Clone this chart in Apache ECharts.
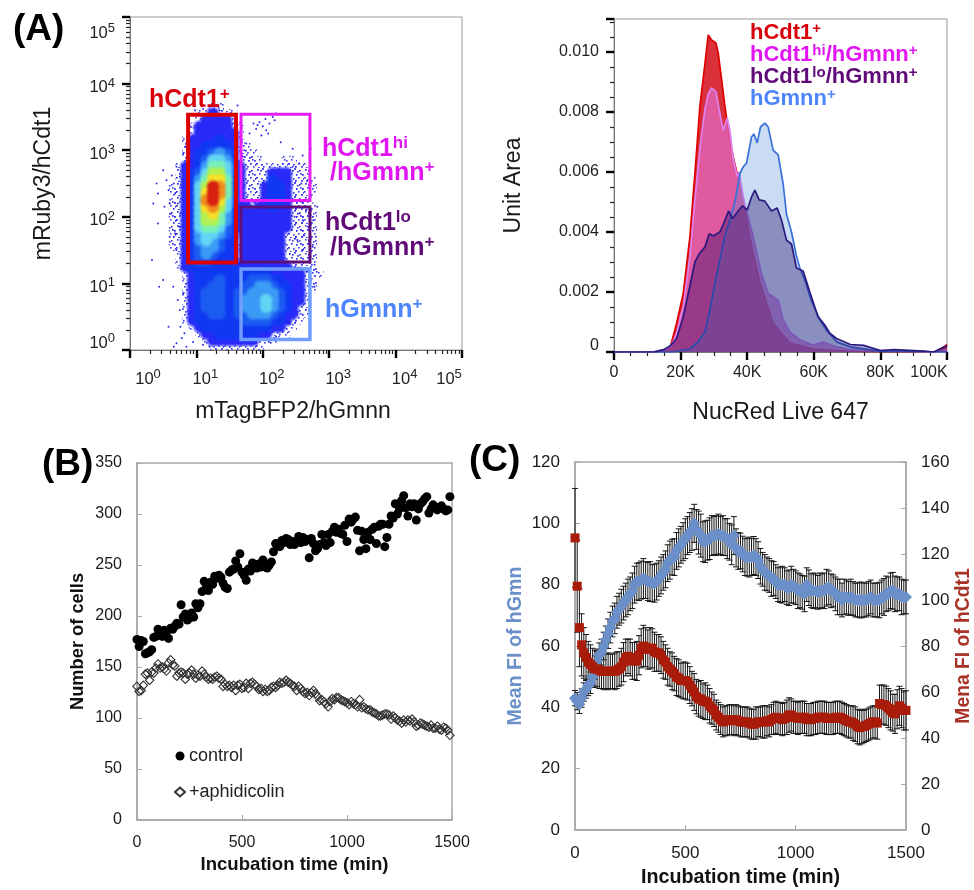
<!DOCTYPE html>
<html><head><meta charset="utf-8">
<style>html,body{margin:0;padding:0;background:#fff}#c{width:974px;height:890px}</style>
<script src="https://cdn.jsdelivr.net/npm/echarts@6/dist/echarts.min.js"></script>
</head><body><div id="c"></div>
<script>
const FONT='"Liberation Sans",Arial,sans-serif';
// ---- Panel A, flow plot: density levels read per 0.1 decade cell (row = mRuby3, col = mTagBFP2)
const densityLogXStart=0.5, densityLogYTop=3.7, densityStep=0.1;
const densityRows=[
"0000000110000000000000000",
"0000011211100000000000000",
"0000012222100000000000000",
"0000122222110000000000000",
"0000122222210000000000000",
"0001222232210000000000000",
"0001223333211000000000000",
"0001233454311100000000000",
"0001234665311110001100000",
"0012235776421111111111000",
"0012346886421111222111000",
"0012357997421111322111100",
"0112368ba7421112332111100",
"0112369ba7421112332111100",
"011236ab96421112332111000",
"0112369a86322122322111100",
"0112368975322222222111100",
"0112368875322222222111100",
"0112367764322222222111100",
"0112356654312222221111100",
"0112356543312222221111100",
"0112345543212222221111100",
"0012345433212222221111100",
"0012344333212222221111100",
"0012333333322222222111100",
"0001233333333333222221110",
"0001233343333444332221100",
"0001233443334455433221100",
"0001234443344555543221000",
"0001234443345556543221000",
"0001234443345556543211000",
"0001233443344555432211000",
"0001233333334444332110000",
"0000123333333333221100000",
"0000012233333322111000000",
"0000001222222211100000000",
"0000000111111110000000000"];
const densityColors={1:'#6f6fff',2:'#2a2af8',3:'#1038f2',4:'#1a5cf2',5:'#3a9af6',6:'#62d4f4',7:'#78f0b8',8:'#b0f050',9:'#f6e028',a:'#f08c1c',b:'#d8200e'};
// isolated events, as [log10 x, log10 y]
const speckles=[[.4,2.5],[.42,2.35],[.5,2.7],[.55,2.55],[.58,2.4],[.6,2.2],[.52,2.15],[.63,2.62],[.66,2.5],[.68,2.35],[.7,2.75],[.62,2.05],[.72,2.2],[.7,1.95],[.75,2.6],[.78,2.45],[.76,2.05],[.74,1.85],[.68,1.75],[.6,1.7],[.35,2.2],[.33,1.35],[.44,.95],[.5,1.05],[.42,1.9],[.7,1.5],[.78,1.25],[.8,.85],[.75,.6],[.72,.75],[.65,.95],[.58,.35],[.76,.35],[.82,.25],[.7,.1],[.85,.05],[.95,.12],[1.1,.08],[1.2,.05],[1.3,.1],[.78,.18],[.66,.05],
[1.75,3.1],[1.8,3.25],[1.86,3.4],[1.9,3.32],[1.95,3.42],[2,3.36],[2.05,3.3],[2.1,3.4],[2.15,3.5],[2.18,3.45],[2.08,3.25],[1.98,3.22],[1.92,3.38],[2.04,3.47],[2.2,3.55],[2.27,3.12],[2.45,3.02],[2.6,2.92],[2.55,2.8],[2.67,2.55],[2.58,2.5],[2.72,3.02],[2.45,2.75],[1.72,3.0],[1.7,2.9],
[2.72,2.02],[2.76,1.95],[2.8,1.7],[2.75,1.55],[2.62,1.72],[2.78,1.28],[2.7,1.08],[2.78,.95],[2.66,1.18],[2.72,1.4],[2.82,2.15],
[.98,3.6],[1.1,3.62],[1.2,3.6],[1.28,3.58],[1.35,3.6],[1.62,3.67],[.92,3.35],[.86,3.15],[.84,3.05],[.8,2.95],[1.45,3.55],[1.55,3.4],[1.6,3.2],
[1.5,1.72],[1.55,1.55],[1.6,1.6],[1.45,1.6],[1.52,1.42],[2.55,2.05],[2.65,2.1],[2.48,2.0],[2.6,1.95],[2.68,1.85],[2.52,1.65],[2.6,1.5],[2.7,1.65],[2.3,1.05],[2.48,.6],[2.55,.8],[2.4,.4],[2.3,.3],[2.2,.2],[2.05,.15],[1.9,.1]];
// gates as [x0, y0, x1, y1] in axis units
const gateRed=[7.5,20.6,39.5,3410], gateHi=[47,176,513,3470], gateLo=[47,21,513,140], gateGm=[47,1.44,513,16.5];
const logTicks=[1,10,100,1000,10000,100000];
const logMinorTicks=[2,3,4,5,6,7,8,9,20,30,40,50,60,70,80,90,200,300,400,500,600,700,800,900,2000,3000,4000,5000,6000,7000,8000,9000,20000,30000,40000,50000,60000,70000,80000,90000];
// ---- Panel A, histograms: [NucRed (K), Unit Area (x10^-3)]
const histRed=[[0,0],[12,0],[14,.03],[15.5,.06],[16.8,.12],[18.8,.96],[20.8,1.95],[22.8,3.85],[24.3,5.96],[25.8,8.2],[27.3,9.6],[28.3,10.57],[29.3,10.4],[30.6,10.3],[31.3,9.96],[32.3,9.1],[33.3,8.2],[34.3,7.4],[35.8,6.5],[37.3,5.8],[38.8,5.1],[40.8,3.8],[43.8,2.3],[47.8,.95],[52.8,.3],[60,.1],[70,.03],[90,0],[97,0],[99,.15],[100,.25]];
const histHi=[[0,0],[11,0],[13,.03],[15,.08],[16,.1],[17,.18],[18,.4],[19,.7],[20,1.2],[20.8,1.5],[22.8,3.2],[24.3,5.07],[25.8,6.8],[27.3,8.1],[28.3,8.6],[29.3,8.8],[30.6,8.68],[31.6,8.07],[32.8,7.4],[34,7.8],[34.8,7.4],[35.8,6.45],[37,5.85],[37.6,6],[38.8,5.17],[40.3,4.5],[42.3,3.6],[44.3,2.6],[46.3,1.95],[47.8,1.84],[49.3,1.73],[50.8,1.07],[52.8,.67],[55.8,.4],[59.8,.23],[63,.33],[66,.2],[70,.1],[76,.07],[82,.04],[92,.02],[97,0],[100,.1]];
const histLo=[[0,0],[12,0],[13,.03],[15,.08],[16.8,.2],[18.8,.45],[20.8,1.17],[22.8,2.2],[24.3,3],[25.6,3.27],[27.3,3.5],[28.6,3.94],[29.8,3.87],[31.8,4],[33,4.3],[34.4,4.7],[35.6,4.45],[37.3,4.7],[38.6,4.87],[40,4.73],[41.3,5.17],[42.3,5.4],[43.6,5.07],[45.3,5.03],[47.3,4.7],[49,4.8],[50.3,4.4],[51.8,3.73],[53.3,3.6],[54.8,2.8],[56.8,2.7],[58.8,2],[61.3,1.17],[63.3,.9],[64.8,.63],[67,.44],[71,.25],[75,.22],[80,.05],[84,.08],[93,.03],[96,0],[99,.17],[100,.2]];
const histGm=[[0,0],[18,0],[19.8,.05],[22.8,.1],[25.3,.35],[27.3,.67],[28.8,1.4],[30.3,2.3],[31.8,3.07],[33.3,3.87],[34.8,4.4],[36.3,5],[37.8,5.95],[38.8,6.17],[39.8,6.3],[41.3,7.17],[42,7.27],[43,6.97],[44,7.5],[45.3,7.63],[46.3,7.5],[47.8,6.73],[49.3,6.57],[50.8,5.6],[51.8,4.6],[53.3,4],[54.8,3.2],[55.8,2.8],[57.3,2.4],[59.3,1.7],[61.8,1.07],[63.8,.73],[67,.33],[71,.17],[80,.02],[100,0]];
// ---- Panel B: one value every 10 min
const sampleStep=10;
const control=[177,170,176,175,163,164,165,167,179,180,
187,183,180,186,184,178,188,187,190,193,
192,211,199,202,196,198,203,199,212,208,
212,224,234,230,225,233,231,239,237,240,
238,232,228,227,243,245,246,254,248,261,
243,240,235,246,244,252,250,247,251,248,
255,249,247,250,253,263,271,270,268,274,
272,276,275,270,273,270,273,278,272,277,
273,275,257,276,271,264,266,270,280,272,
269,280,272,283,287,282,285,281,280,289,
273,295,292,295,297,284,264,283,275,266,
282,275,285,287,271,288,290,290,268,277,
290,298,296,310,300,305,313,318,306,298,
310,307,310,294,305,310,312,315,317,301,
305,309,307,304,306,308,305,303,304,317];
const aphidicolin=[131,126,127,132,143,144,137,145,144,149,
153,149,150,148,146,154,157,152,151,141,
144,145,144,138,143,144,147,143,139,142,
141,146,143,140,138,139,138,140,141,139,
138,131,133,131,132,130,132,127,132,133,
129,130,134,129,134,135,133,131,128,129,
126,128,126,127,130,131,130,132,135,134,
135,137,135,134,132,131,127,131,129,126,
124,125,122,125,127,124,121,117,118,116,
114,111,116,119,118,120,120,118,117,116,
115,113,116,114,113,111,118,110,111,109,
108,108,106,105,104,102,102,103,104,104,
103,99,102,100,98,97,95,98,96,98,
97,99,96,92,93,95,94,93,92,91,
93,90,90,92,89,88,91,90,88,83];
// ---- Panel C: one value every 10 min
const meanGmnn=[43,42,41,43,45,46,47,48,50,53,
55,57,58,60,62,64,66,68,69,71,
72,73,74,75,76,77,78,80,81,81,
81.5,82,81.5,81,81,80.5,80.5,81,82,83,
84,85,87,88,89,89,91,92,93,94,
95,96,97,98,100,98,97,96,94,94,
94.5,95,96,96,96,96.5,96,96,95.5,95,
94,93,96,92,91,91,90,89,89,89,
89,89.5,89,88,86,85,84,83.5,83,82,
82,81,80,80,80,80,79,79,80,79.5,
79,78,78,77.5,77,80,79,78,78,78,
77.5,78,78,78,79,79,78,78,77,76,
76,75,76,76,75.5,76,75.5,75,75,75,
75,75,75,75.5,76,75,75,75,75,76,
76,77,77,78,78,77,77,77,76,76,76];
const errGmnn=[2.5,2.8,3,3,3,3,3.2,3.5,3.5,3.8,
4,4,4.2,4.5,4.5,4.8,5,5,5,5.2,
5.2,5.5,5.5,5.5,5.8,5.5,5.8,6,6,6.2,
6.2,6.5,6,6.2,6.5,6,6.2,6,5.8,6,
5.8,6,6,6.2,5.8,6,6,6.2,6,6.2,
6.5,6.2,6.5,6.8,6.2,6.5,7,7,6.5,6.8,
6.5,6.8,6.5,6.2,6.5,6.5,6.2,6.5,6,6.5,
6,6.5,6.2,6.2,6,5.8,5.8,6,6.2,6.5,
6,6.2,6,6,5.8,5.5,5.8,5.5,5.5,5.8,
5.5,5.5,5.5,5.8,6,5.5,5.5,5.8,6,5.5,
5.5,5.8,5.5,5.5,5.8,5.5,5.8,5.5,5.8,5.5,
5.5,5.8,5.5,5.8,6,5.5,5.5,5.2,5.5,5.8,
5.8,5.5,5.8,5.5,5.5,5.8,5.5,5.5,5.5,5.8,
5.8,5.5,5.5,5.5,5.5,5.5,5.5,5.5,5.8,5.5,
6,5.8,5.5,5.8,6,5.8,5.5,5.5,5.8,5.5,5.5];
const meanCdt1=[127,106,88,80.5,77,75,73,72,71,70,
70,69.5,69,69,69,69,69,69,69,69.5,
70,71,73,75,75.5,75,73.5,73.5,73.5,76,
79,80,79.5,78.5,79,79,77.5,77,77,76,
74,73,71,70,69,68,66.5,66,65,65,
65,64.5,63,61.5,60,58,57,57,56,56,
55.5,54,53,52,50,49,48,47,47.5,47.5,
48,48,47.5,48,47.5,47,47,47,47,46.5,
46,46,46.5,47,47,47,47,47.5,47,48,
48.5,49,48.5,48.5,48,48.5,49,50,50,49,
49,48.5,49,49,49,48,48,48,48.5,48.5,
49,49,49,49,48.5,48.5,48.5,48.5,49,49,
49,48.5,48,47.5,47,47,46.5,46,45,44.5,
45,45,45.5,46,46.5,47,47,46.5,55,54.5,
54.5,54,53,52,51,50.5,52.5,54,53,52,52];
const errCdt1=[21.5,20,17,13.5,11,10,9,8.5,8,8,
7.5,8,7.5,8,7.5,8,7.5,7.5,8,8,
7.5,8,8.5,8,7.5,8,8,8,8.5,8.5,
8.5,9,8.5,8.5,9,8.5,8.5,8,8,8,
8,7.5,8,7.5,8,7.5,8,8,7.5,8,
8,8,8,7.5,8,7.5,7.5,8,7.5,8,
7.5,7.5,7,7,6.5,6.5,6.5,6.5,6.5,6.5,
6.5,6.5,6.5,6.5,6.5,6.5,6.5,6.5,6.5,6.5,
6.5,6.5,7,6.5,6.5,7,7,6.5,6.5,6.5,
7,7,7,7,7,7,7.5,7.5,7,7,
7,7,7,7,7,7,7,7,7,7,
7,7,7,7,7,7,7,7,7,7,
7,7,7,7,7,7,7.5,7.5,7.5,7.5,
7.5,7,7,7,7,7,7,7,8,8.5,
8.5,8.5,8.5,8.5,8,8.5,8.5,8.5,8.5,8.5,8.5];

// ---- build
const densityCells=[];
densityRows.forEach((row,r)=>{[...row].forEach((ch,c)=>{
  if(ch==='0')return;
  const x0=Math.pow(10,densityLogXStart+c*densityStep), x1=Math.pow(10,densityLogXStart+(c+1)*densityStep);
  const y1=Math.pow(10,densityLogYTop-r*densityStep), y0=Math.pow(10,densityLogYTop-(r+1)*densityStep);
  densityCells.push([x0,y0,x1,y1,parseInt(ch,16)]);
});});
densityCells.sort((a,b)=>a[4]-b[4]);
const withTime=a=>a.map((v,i)=>[i*sampleStep,v]);
const kUnits=a=>a.map(p=>[p[0]*1000,p[1]/1000]);
const withErr=(m,e)=>m.map((v,i)=>[i*sampleStep,v,e[i]]);

// dotted texture for the sparse cells at the rim of the populations
const tile=document.createElement('canvas');tile.width=16;tile.height=14;
(function(){const g=tile.getContext('2d');g.fillStyle='#2a2af0';
  [[1,1],[6,0],[11,2],[14,6],[3,5],[8,6],[0,9],[5,10],[10,9],[13,12],[7,12],[2,13],[12,5],[4,2],[9,3],[15,10]].forEach(d=>{g.globalAlpha=.9;g.fillRect(d[0],d[1],1.6,1.6);});})();
const alpha0=h=>`rgba(${parseInt(h.slice(1,3),16)},${parseInt(h.slice(3,5),16)},${parseInt(h.slice(5,7),16)},0)`;

function cellItem(params,api){
  const p0=api.coord([api.value(0),api.value(1)]), p1=api.coord([api.value(2),api.value(3)]);
  const lvl=api.value(4), col=densityColors[lvl.toString(16)];
  const w=p1[0]-p0[0],h=p0[1]-p1[1];
  if(lvl===1) return {type:'rect',shape:{x:p0[0]-1,y:p1[1]-1,width:w+2,height:h+2},style:{fill:{image:tile,repeat:'repeat'}}};
  return {type:'circle',shape:{cx:p0[0]+w/2,cy:p1[1]+h/2,r:w*1.2},
    style:{fill:{type:'radial',x:.5,y:.5,r:.5,colorStops:[{offset:0,color:col},{offset:.5,color:col},{offset:1,color:alpha0(col)}]}}};
}
function gateItem(color,lw){return function(params,api){
  const p0=api.coord([api.value(0),api.value(1)]), p1=api.coord([api.value(2),api.value(3)]);
  return {type:'rect',shape:{x:p0[0],y:p1[1],width:p1[0]-p0[0],height:p0[1]-p1[1]},
    style:{fill:'none',stroke:color,lineWidth:lw}};
};}
function errItem(params,api){
  const t=api.value(0),m=api.value(1),e=api.value(2);
  const hi=api.coord([t,m+e]),lo=api.coord([t,m-e]),cap=3,st={stroke:'#141414',lineWidth:1};
  return {type:'group',children:[
    {type:'line',shape:{x1:hi[0],y1:hi[1],x2:lo[0],y2:lo[1]},style:st},
    {type:'line',shape:{x1:hi[0]-cap,y1:hi[1],x2:hi[0]+cap,y2:hi[1]},style:st},
    {type:'line',shape:{x1:lo[0]-cap,y1:lo[1],x2:lo[0]+cap,y2:lo[1]},style:st}]};
}
const histArea=(name,data,line,fill,z)=>({type:'line',name,xAxisIndex:2,yAxisIndex:2,data:kUnits(data),showSymbol:false,symbol:'none',z,
  lineStyle:{color:line,width:1.7},areaStyle:{color:fill,origin:'start',opacity:1},silent:true});
const tickGray='#a8a8a8';
const plainAxis=(extra,fs)=>Object.assign({type:'value',min:0,axisLine:{show:true,lineStyle:{color:tickGray,width:1.5}},
  axisTick:{show:true,inside:true,length:5,lineStyle:{color:tickGray}},splitLine:{show:false},
  axisLabel:{color:'#1a1a1a',fontFamily:FONT,fontSize:fs,margin:15,formatter:v=>String(v)},
  nameLocation:'middle'},extra);

const BF=16.5, SF=13;
const tok=(pad,f)=>({fontFamily:FONT,fontSize:f,color:'#222',padding:pad});
const supRich={
  p0:tok([0,0,0,36],BF),p1:tok([0,0,0,18],BF),p2:tok([0,0,0,18],BF),p3:tok([0,0,0,18],BF),p4:tok([0,0,0,18],BF),p5:tok([0,0,0,0],BF),
  s0:tok([0,0,9,0],SF),s5:tok([0,26,9,0],SF)};
const supRichY={
  n5:tok([32,0,0,0],BF),m5:tok([32,0,9,0],SF),
  n:tok([8,0,0,0],BF),m:tok([8,0,9,0],SF),
  n0:tok([0,0,14,0],BF),m0:tok([0,0,23,0],SF)};
const flowLabelX=v=>{const e=Math.round(Math.log10(v));return e===5?'{p5|10}{s5|5}':`{p${e}|10}{s0|${e}}`;};
const flowLabelY=v=>{const e=Math.round(Math.log10(v));
  return e===5?'{n5|10}{m5|5}':e===0?'{n0|10}{m0|0}':`{n|10}{m|${e}}`;};
const blackTick={show:true,length:8,lineStyle:{color:'#000',width:2.4}};
const minorTick={show:true,length:4,lineStyle:{color:'#222',width:1.2}};

const richLabel=(x,y,text,size,color)=>({type:'text',x,y,z:50,style:{text,fontFamily:FONT,
  verticalAlign:'middle',rich:{b:{fontFamily:FONT,fontWeight:'bold',fontSize:size,fill:color,color},
    s:{fontFamily:FONT,fontWeight:'bold',fontSize:Math.round(size*.68),fill:color,color,padding:[0,0,Math.round(size*.42),0]}}}});
const panel=(x,y,t)=>({type:'text',x,y,z:50,style:{text:t,fontFamily:FONT,fontWeight:'bold',fontSize:37,fill:'#000'}});

const option={
  animation:false,backgroundColor:'#fff',
  textStyle:{fontFamily:FONT},
  legend:{show:true,orient:'vertical',left:169,top:742,itemGap:18,itemWidth:10,itemHeight:9,
    data:[{name:'control',icon:'circle'},{name:'+aphidicolin',icon:'diamond'}],
    textStyle:{fontFamily:FONT,fontSize:18,color:'#222',padding:[0,0,0,-1]}},
  grid:[
    {left:130,top:17,width:332,height:333,show:true,borderColor:'#999',borderWidth:1},
    {left:130,top:17,width:332,height:333,show:false},
    {left:614,top:19,width:333,height:333,show:true,borderColor:'#999',borderWidth:1},
    {left:137,top:463,width:315,height:357,show:true,borderColor:tickGray,borderWidth:1.5},
    {left:575,top:462,width:333,height:368,show:true,borderColor:tickGray,borderWidth:1.5}],
  xAxis:[
    {type:'log',gridIndex:0,min:1,max:100000,logBase:10,position:'bottom',name:'mTagBFP2/hGmnn',nameLocation:'middle',nameGap:50,
      nameTextStyle:{fontFamily:FONT,fontSize:23,color:'#1a1a1a',padding:[0,6,0,0]},splitLine:{show:false},axisLine:{show:true,lineStyle:{color:'#777'}},
      axisTick:Object.assign({customValues:logTicks},blackTick),
      axisLabel:{customValues:logTicks,formatter:flowLabelX,rich:supRich,margin:18,align:'center',color:'#222',fontSize:BF}},
    {type:'log',gridIndex:1,min:1,max:100000,logBase:10,position:'bottom',axisLine:{show:false},splitLine:{show:false},
      axisTick:Object.assign({customValues:logMinorTicks},minorTick),axisLabel:{show:false}},
    {type:'value',gridIndex:2,min:0,max:100000,interval:20000,name:'NucRed Live 647',nameLocation:'middle',nameGap:49,
      nameTextStyle:{fontFamily:FONT,fontSize:23,color:'#1a1a1a'},splitLine:{show:false},axisLine:{show:true,lineStyle:{color:'#777'}},
      axisTick:blackTick,minorTick:{show:true,splitNumber:4,length:4,lineStyle:{color:'#222',width:1.2}},
      axisLabel:{color:'#222',fontFamily:FONT,fontSize:16,margin:13,formatter:v=>v===0?'0':v===100000?'{k|100K}':(v/1000)+'K',
        rich:{k:{fontFamily:FONT,fontSize:16,color:'#222',padding:[0,36,0,0]}},hideOverlap:false}},
    plainAxis({gridIndex:3,max:1500,interval:500,name:'Incubation time (min)',nameGap:35,
      nameTextStyle:{fontFamily:FONT,fontSize:18.6,fontWeight:'bold',color:'#111'}},16),
    plainAxis({gridIndex:4,max:1500,interval:500,name:'Incubation time (min)',nameGap:38,
      nameTextStyle:{fontFamily:FONT,fontSize:19.7,fontWeight:'bold',color:'#111'}},17)],
  yAxis:[
    {type:'log',gridIndex:0,min:1,max:100000,logBase:10,name:'mRuby3/hCdt1',nameLocation:'middle',nameGap:75,
      nameTextStyle:{fontFamily:FONT,fontSize:23,color:'#1a1a1a'},splitLine:{show:false},axisLine:{show:true,lineStyle:{color:'#777'}},
      axisTick:Object.assign({customValues:logTicks},blackTick),
      axisLabel:{customValues:logTicks,formatter:flowLabelY,rich:supRichY,margin:15,color:'#222',fontSize:BF}},
    {type:'log',gridIndex:1,min:1,max:100000,logBase:10,axisLine:{show:false},splitLine:{show:false},
      axisTick:Object.assign({customValues:logMinorTicks},minorTick),axisLabel:{show:false}},
    {type:'value',gridIndex:2,min:0,max:0.0111,interval:0.002,name:'Unit Area',nameLocation:'middle',nameGap:89,
      nameTextStyle:{fontFamily:FONT,fontSize:23,color:'#1a1a1a'},splitLine:{show:false},axisLine:{show:true,lineStyle:{color:'#777'}},
      axisTick:blackTick,minorTick:{show:true,splitNumber:4,length:4,lineStyle:{color:'#222',width:1.2}},
      axisLabel:{color:'#222',fontFamily:FONT,fontSize:16,margin:15,showMaxLabel:false,formatter:v=>v===0?'{z|0}':v.toFixed(3),
        rich:{z:{fontFamily:FONT,fontSize:16,color:'#222',padding:[0,0,12,0]}}}},
    plainAxis({gridIndex:3,max:350,interval:50,name:'Number of cells',nameGap:50,
      nameTextStyle:{fontFamily:FONT,fontSize:18.3,fontWeight:'bold',color:'#111'}},16),
    plainAxis({gridIndex:4,max:120,interval:20,name:'Mean FI of hGmn',nameGap:49,
      nameTextStyle:{fontFamily:FONT,fontSize:19.6,fontWeight:'bold',color:'#6b8fc9'}},17),
    plainAxis({gridIndex:4,position:'right',max:160,interval:20,name:'Mena FI of hCdt1',nameGap:48,
      nameTextStyle:{fontFamily:FONT,fontSize:19.3,fontWeight:'bold',color:'#a93226'}},17)],
  series:[
    {type:'custom',name:'density',xAxisIndex:0,yAxisIndex:0,data:densityCells,renderItem:cellItem,encode:{x:[0,2],y:[1,3]},z:1,silent:true,clip:true},
    {type:'scatter',name:'events',xAxisIndex:0,yAxisIndex:0,data:speckles.map(p=>[Math.pow(10,p[0]),Math.pow(10,p[1])]),symbolSize:2,itemStyle:{color:'#2a2af0',opacity:1},z:2,silent:true},
    {type:'custom',name:'gate hCdt1',xAxisIndex:0,yAxisIndex:0,data:[gateRed],renderItem:gateItem('#dc0000',4),encode:{x:[0,2],y:[1,3]},z:5,silent:true},
    {type:'custom',name:'gate hi',xAxisIndex:0,yAxisIndex:0,data:[gateHi],renderItem:gateItem('#e61ef5',3),encode:{x:[0,2],y:[1,3]},z:4,silent:true},
    {type:'custom',name:'gate lo',xAxisIndex:0,yAxisIndex:0,data:[gateLo],renderItem:gateItem('#5f0f78',3),encode:{x:[0,2],y:[1,3]},z:4,silent:true},
    {type:'custom',name:'gate hGmnn',xAxisIndex:0,yAxisIndex:0,data:[gateGm],renderItem:gateItem('#6f9dff',3.5),encode:{x:[0,2],y:[1,3]},z:4,silent:true},
    histArea('hCdt1+',histRed,'#e00000','rgba(214,30,40,0.92)',2),
    histArea('hCdt1hi/hGmnn+',histHi,'#dd82f0','rgba(227,108,204,0.7)',3),
    histArea('hGmnn+',histGm,'#3a70d8','rgba(78,138,218,0.3)',4),
    histArea('hCdt1lo/hGmnn+',histLo,'#2a1a80','rgba(20,0,95,0.35)',5),
    {type:'scatter',name:'control',xAxisIndex:3,yAxisIndex:3,data:withTime(control),symbol:'circle',symbolSize:9,itemStyle:{color:'#000',opacity:1},z:3,clip:false},
    {type:'scatter',name:'+aphidicolin',xAxisIndex:3,yAxisIndex:3,data:withTime(aphidicolin),symbol:'diamond',symbolSize:8.5,
      itemStyle:{color:'rgba(255,255,255,0)',borderColor:'#333',borderWidth:1.1,opacity:1},z:3,clip:false},
    {type:'custom',name:'err hGmnn',xAxisIndex:4,yAxisIndex:4,data:withErr(meanGmnn,errGmnn),renderItem:errItem,encode:{x:0,y:1},z:2,silent:true,clip:false},
    {type:'custom',name:'err hCdt1',xAxisIndex:4,yAxisIndex:5,data:withErr(meanCdt1,errCdt1),renderItem:errItem,encode:{x:0,y:1},z:2,silent:true,clip:false},
    {type:'scatter',name:'Mean FI of hGmn',xAxisIndex:4,yAxisIndex:4,data:withTime(meanGmnn),symbol:'diamond',symbolSize:12,itemStyle:{color:'#6b8fc9',opacity:1},z:3,clip:false},
    {type:'scatter',name:'Mena FI of hCdt1',xAxisIndex:4,yAxisIndex:5,data:withTime(meanCdt1),symbol:'rect',symbolSize:9,itemStyle:{color:'#aa1c0a',opacity:1},z:4,clip:false}
  ],
  graphic:{elements:[
    panel(13,11,'(A)'),panel(42,446,'(B)'),panel(469,442,'(C)'),
    richLabel(149,100,'{b|hCdt1}{s|+}',25,'#d8000a'),
    richLabel(322,149,'{b|hCdt1}{s|hi}',25,'#e214f2'),
    richLabel(330,173,'{b|/hGmnn}{s|+}',25,'#e214f2'),
    richLabel(325,223,'{b|hCdt1}{s|lo}',25,'#5f0a78'),
    richLabel(330,248,'{b|/hGmnn}{s|+}',25,'#5f0a78'),
    richLabel(325,310,'{b|hGmnn}{s|+}',25,'#4d85ff'),
    richLabel(750,33,'{b|hCdt1}{s|+}',22,'#d8000a'),
    richLabel(750,55,'{b|hCdt1}{s|hi}{b|/hGmnn}{s|+}',22,'#e214f2'),
    richLabel(750,77,'{b|hCdt1}{s|lo}{b|/hGmnn}{s|+}',22,'#5f0a78'),
    richLabel(750,99,'{b|hGmnn}{s|+}',22,'#4d85ff')
  ]}
};
const chart=echarts.init(document.getElementById('c'),null,{renderer:'canvas',width:974,height:890});
chart.setOption(option);
</script></body></html>
